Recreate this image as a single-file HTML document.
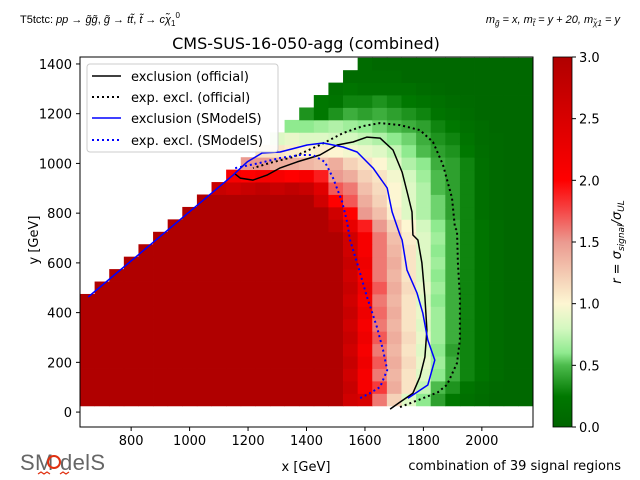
<!DOCTYPE html>
<html><head><meta charset="utf-8"><style>
body{margin:0;background:#fff;}
svg{display:block;font-family:"DejaVu Sans","Liberation Sans",sans-serif;}
</style></head><body>
<svg id="chart" width="640" height="480" xmlns="http://www.w3.org/2000/svg">
<defs>
<linearGradient id="cbgrad" x1="0" y1="1" x2="0" y2="0">
<stop offset="0" stop-color="#006400"/><stop offset="0.0833" stop-color="#007800"/><stop offset="0.1667" stop-color="#4cbb4c"/><stop offset="0.2" stop-color="#8fea8f"/><stop offset="0.2667" stop-color="#d4f8c0"/><stop offset="0.3333" stop-color="#fdf6d2"/><stop offset="0.4" stop-color="#f5d2b8"/><stop offset="0.5" stop-color="#eb9a90"/><stop offset="0.5833" stop-color="#f54848"/><stop offset="0.6667" stop-color="#ff0000"/><stop offset="0.8333" stop-color="#d80000"/><stop offset="1" stop-color="#b00000"/>
</linearGradient>
</defs>
<text x="20" y="23" font-size="11" font-family="Liberation Sans, sans-serif">T5tctc: <tspan font-style="italic">pp</tspan> → <tspan font-style="italic">g̃g̃</tspan>, <tspan font-style="italic">g̃</tspan> → <tspan font-style="italic">tt̃</tspan>, <tspan font-style="italic">t̃</tspan> → <tspan font-style="italic">cχ̃</tspan><tspan font-size="8" dy="3">1</tspan><tspan font-size="8" dy="-8">0</tspan></text>
<text x="620" y="23" font-size="11" text-anchor="end" font-family="Liberation Sans, sans-serif" font-style="italic">m<tspan font-size="8" dy="3">g̃</tspan><tspan dy="-3"> = x, m</tspan><tspan font-size="8" dy="3">t̃</tspan><tspan dy="-3"> = y + 20, m</tspan><tspan font-size="8" dy="3">χ̃1</tspan><tspan dy="-3"> = y</tspan></text>
<text x="306" y="49" font-size="16" text-anchor="middle">CMS-SUS-16-050-agg (combined)</text>
<g id="cells"></g>
<g id="curves"></g>
<rect x="80" y="57" width="453" height="370" fill="none" stroke="#000" stroke-width="1"/>
<g id="xticks"></g>
<g id="yticks"></g>
<text x="306" y="471" font-size="13" text-anchor="middle">x [GeV]</text>
<text x="0" y="0" font-size="13" text-anchor="middle" transform="translate(38,240) rotate(-90)">y [GeV]</text>
<text x="621" y="470" font-size="13" text-anchor="end">combination of 39 signal regions</text>
<g>
<rect x="87" y="64" width="191" height="88" rx="3" fill="#fff" fill-opacity="0.85" stroke="#ccc"/>
<line x1="92" y1="76" x2="121" y2="76" stroke="#000" stroke-width="1.5"/>
<text x="131" y="81" font-size="13">exclusion (official)</text>
<line x1="92" y1="97" x2="121" y2="97" stroke="#000" stroke-width="2" stroke-dasharray="2,3"/>
<text x="131" y="102" font-size="13">exp. excl. (official)</text>
<line x1="92" y1="118" x2="121" y2="118" stroke="#00f" stroke-width="1.5"/>
<text x="131" y="123" font-size="13">exclusion (SModelS)</text>
<line x1="92" y1="140" x2="121" y2="140" stroke="#00f" stroke-width="2" stroke-dasharray="2,3"/>
<text x="131" y="145" font-size="13">exp. excl. (SModelS)</text>
</g>
<rect x="553" y="57" width="19" height="370" fill="url(#cbgrad)" stroke="#000" stroke-width="0.8"/>
<g id="cbticks"></g>
<text x="0" y="0" font-size="13" text-anchor="middle" font-style="italic" transform="translate(621,242) rotate(-90)">r = σ<tspan font-size="9" dy="3">signal</tspan><tspan dy="-3">/σ</tspan><tspan font-size="9" dy="3">UL</tspan></text>
<g>
<text x="20" y="470" font-size="22" fill="#666" font-family="Liberation Sans, sans-serif" textLength="85">SM  delS</text>
<circle cx="54" cy="462" r="6" fill="none" stroke="#e03010" stroke-width="2"/>
<path d="M38 474 l3 -2 l3 2 l3 -2 l3 2 M60 474 l3 -2 l3 2 l3 -2" fill="none" stroke="#e03010" stroke-width="1.2"/>
</g>
</svg>
<script>
const N = null;
const xCenters = [650,700,750,800,850,900,950,1000,1050,1100,1150,1200,1250,1300,1350,1400,1450,1500,1550,1600,1650,1700,1750,1800,1850,1900,1950,2000,2050,2100,2150];
const yCenters = [50,100,150,200,250,300,350,400,450,500,550,600,650,700,750,800,850,900,950,1000,1050,1100,1150,1200,1250,1300,1350,1400];
const rValues = [
[3,3,3,3,3,3,3,3,3,3,3,3,3,3,3,3, 3,3,2.6,2.5,1.6,1.2,0.85,0.6,0.4,0.25,0.15,0.1,0.05,0.05,0.05],
[3,3,3,3,3,3,3,3,3,3,3,3,3,3,3,3, 3,3,2.7,2.1,1.8,1.4,1.1,0.75,0.5,0.35,0.2,0.12,0.06,0.05,0.05],
[3,3,3,3,3,3,3,3,3,3,3,3,3,3,3,3, 3,3,2.6,2.1,1.6,1.35,1.1,0.85,0.6,0.45,0.3,0.2,0.1,0.05,0.05],
[3,3,3,3,3,3,3,3,3,3,3,3,3,3,3,3, 3,3,2.7,2.2,1.7,1.4,1.15,0.9,0.65,0.45,0.3,0.2,0.1,0.05,0.05],
[3,3,3,3,3,3,3,3,3,3,3,3,3,3,3,3, 3,3,2.6,2.1,1.6,1.35,1.1,0.85,0.6,0.4,0.3,0.2,0.1,0.05,0.05],
[3,3,3,3,3,3,3,3,3,3,3,3,3,3,3,3, 3,3,2.7,2.2,1.7,1.4,1.15,0.9,0.65,0.45,0.3,0.2,0.1,0.05,0.05],
[3,3,3,3,3,3,3,3,3,3,3,3,3,3,3,3, 3,3,2.6,2.1,1.6,1.35,1.1,0.85,0.65,0.45,0.3,0.2,0.1,0.05,0.05],
[3,3,3,3,3,3,3,3,3,3,3,3,3,3,3,3, 3,3,2.7,2.2,1.65,1.4,1.1,0.9,0.65,0.45,0.3,0.2,0.1,0.05,0.05],
[3,3,3,3,3,3,3,3,3,3,3,3,3,3,3,3, 3,3,2.6,2.1,1.6,1.35,1.1,0.85,0.6,0.45,0.3,0.2,0.1,0.05,0.05],
[N,3,3,3,3,3,3,3,3,3,3,3,3,3,3,3, 3,3,2.7,2.2,1.7,1.4,1.15,0.9,0.65,0.45,0.3,0.2,0.1,0.05,0.05],
[N,N,3,3,3,3,3,3,3,3,3,3,3,3,3,3, 3,3,2.6,2.1,1.6,1.35,1.1,0.85,0.6,0.45,0.3,0.2,0.1,0.05,0.05],
[N,N,N,3,3,3,3,3,3,3,3,3,3,3,3,3, 3,3,2.7,2.2,1.6,1.4,1.1,0.85,0.65,0.45,0.3,0.2,0.1,0.05,0.05],
[N,N,N,N,3,3,3,3,3,3,3,3,3,3,3,3, 3,3,2.6,2.1,1.6,1.35,1.1,0.85,0.6,0.45,0.3,0.2,0.1,0.05,0.05],
[N,N,N,N,N,3,3,3,3,3,3,3,3,3,3,3, 3,3,2.6,2.1,1.6,1.3,1.05,0.85,0.65,0.45,0.3,0.2,0.1,0.05,0.05],
[N,N,N,N,N,N,3,3,3,3,3,3,3,3,3,3, 3,2.8,2.3,1.9,1.5,1.2,1.0,0.8,0.6,0.45,0.3,0.2,0.1,0.05,0.05],
[N,N,N,N,N,N,N,3,3,3,3,3,3,3,3,3, 3,2.6,2.0,1.5,1.3,1.05,0.85,0.7,0.55,0.4,0.3,0.15,0.08,0.05,0.05],
[N,N,N,N,N,N,N,N,3,3,3,3,3,3,3,3, 2.6,2.0,1.7,1.4,1.2,1.0,0.85,0.7,0.55,0.4,0.3,0.15,0.08,0.05,0.05],
[N,N,N,N,N,N,N,N,N,2.7,2.6,2.7,2.8,2.7,2.8,2.7, 2.4,1.7,1.6,1.3,1.15,1.0,0.85,0.7,0.5,0.4,0.3,0.15,0.08,0.05,0.05],
[N,N,N,N,N,N,N,N,N,N,2.1,2.0,2.1,2.1,2.0,2.1, 1.9,1.5,1.4,1.2,1.1,0.95,0.8,0.65,0.5,0.4,0.3,0.15,0.08,0.05,0.05],
[N,N,N,N,N,N,N,N,N,N,N,1.5,1.5,1.4,1.4,1.35, 1.3,1.4,1.2,1.1,1.0,0.85,0.7,0.6,0.45,0.4,0.3,0.15,0.08,0.05,0.05],
[N,N,N,N,N,N,N,N,N,N,N,N,1.1,1.1,1.05,1.0, 1.05,1.0,0.95,0.9,0.85,0.75,0.6,0.5,0.4,0.35,0.25,0.12,0.08,0.05,0.05],
[N,N,N,N,N,N,N,N,N,N,N,N,N,0.85,0.9,0.85, 0.85,0.8,0.8,0.75,0.7,0.6,0.55,0.45,0.35,0.3,0.2,0.1,0.08,0.05,0.05],
[N,N,N,N,N,N,N,N,N,N,N,N,N,N,0.6,0.6, 0.65,0.7,0.65,0.6,0.55,0.5,0.45,0.4,0.3,0.25,0.15,0.1,0.05,0.05,0.05],
[N,N,N,N,N,N,N,N,N,N,N,N,N,N,N,0.35, 0.25,0.35,0.45,0.4,0.45,0.4,0.35,0.3,0.2,0.15,0.1,0.05,0.05,0.05,0.05],
[N,N,N,N,N,N,N,N,N,N,N,N,N,N,N,N, 0.25,0.2,0.3,0.3,0.35,0.3,0.25,0.2,0.15,0.1,0.08,0.05,0.05,0.05,0.05],
[N,N,N,N,N,N,N,N,N,N,N,N,N,N,N,N, N,0.15,0.2,0.15,0.15,0.15,0.15,0.1,0.08,0.05,0.05,0.05,0.05,0.05,0.05],
[N,N,N,N,N,N,N,N,N,N,N,N,N,N,N,N, N,N,0.1,0.1,0.1,0.1,0.05,0.05,0.05,0.05,0.05,0.05,0.05,0.05,0.05],
[N,N,N,N,N,N,N,N,N,N,N,N,N,N,N,N, N,N,N,0.1,0.05,0.05,0.05,0.05,0.05,0.05,0.05,0.05,0.05,0.05,0.05]
];
const officialX = [1686,1720,1764,1788,1805,1812,1805,1795,1781,1764,1761,1747,1727,1696,1652,1607,1559,1505,1446,1412,1368,1310,1265,1217,1173,1156];
const officialY = [12,40,76,141,221,330,463,600,692,712,805,873,965,1054,1102,1106,1086,1074,1034,1022,1006,982,953,933,941,957];
const expOfficialX = [1720,1799,1850,1881,1915,1925,1925,1918,1915,1908,1898,1867,1833,1788,1720,1652,1593,1525,1446,1354,1275,1217];
const expOfficialY = [20,56,80,110,197,290,463,600,732,740,861,994,1086,1134,1154,1162,1150,1122,1074,1026,1002,981];
const smodelsX = [653,1149,1197,1248,1310,1402,1457,1525,1573,1628,1676,1693,1720,1727,1744,1778,1798,1815,1839,1815,1747];
const smodelsY = [463,953,1006,1042,1046,1074,1082,1066,1046,981,901,805,712,692,571,479,398,290,209,109,56];
const expSmodelsX = [1156,1241,1310,1378,1422,1463,1491,1522,1539,1549,1573,1607,1641,1662,1676,1652,1617,1583];
const expSmodelsY = [981,1002,1022,1034,1034,1006,941,845,764,692,600,463,342,249,169,101,76,56];
const xTicks = [800,1000,1200,1400,1600,1800,2000];
const yTicks = [0,200,400,600,800,1000,1200,1400];
const cbTicks = ["0.0","0.5","1.0","1.5","2.0","2.5","3.0"];

const SVGNS = "http://www.w3.org/2000/svg";
const xs = v => 80 + (v - 625) * (453 / 1550);
const ys = v => 427 - (v + 60) * (370 / 1488);
const cbs = v => 427 - v * (370 / 3);
const stops = [[0,[0,100,0]],[0.25,[0,120,0]],[0.5,[76,187,76]],[0.6,[143,234,143]],[0.8,[212,248,192]],[1.0,[253,246,210]],[1.2,[245,210,184]],[1.5,[235,154,144]],[1.75,[245,72,72]],[2.0,[255,0,0]],[2.5,[216,0,0]],[3.0,[176,0,0]]];
function color(r){
  r = Math.max(0, Math.min(3, r));
  for (let i = 1; i < stops.length; i++) {
    if (r <= stops[i][0]) {
      const a = stops[i-1], b = stops[i], t = (r - a[0]) / (b[0] - a[0]);
      const c = a[1].map((v, k) => Math.round(v + (b[1][k] - v) * t));
      return "rgb(" + c.join(",") + ")";
    }
  }
  return "rgb(176,0,0)";
}
function mk(tag, attrs, parent){
  const e = document.createElementNS(SVGNS, tag);
  for (const k in attrs) e.setAttribute(k, attrs[k]);
  parent.appendChild(e);
  return e;
}
const cells = document.getElementById("cells");
yCenters.forEach((yv, i) => {
  xCenters.forEach((xv, j) => {
    const r = rValues[i][j];
    if (r === null) return;
    const x0 = xs(xv - 25), x1 = xs(xv + 25), y0 = ys(yv + 25), y1 = ys(yv - 25);
    const el = mk("rect", {x: x0, y: y0, width: x1 - x0 + 0.4, height: y1 - y0 + 0.4, fill: color(r)}, cells);
    
    
  });
});
const curves = document.getElementById("curves");
function drawLine(X, Y, stroke, dash, name){
  const d = X.map((v, k) => (k ? "L" : "M") + xs(v).toFixed(1) + " " + ys(Y[k]).toFixed(1)).join(" ");
  const p = mk("path", {d: d, fill: "none", stroke: stroke, "stroke-width": dash ? 2 : 1.5, "stroke-linejoin": "round"}, curves);
  if (dash) p.setAttribute("stroke-dasharray", "2,3");
  
  
}
drawLine(officialX, officialY, "#000", false, "official-exclusion-line");
drawLine(expOfficialX, expOfficialY, "#000", true, "official-expected-line");
drawLine(smodelsX, smodelsY, "#00f", false, "smodels-exclusion-line");
drawLine(expSmodelsX, expSmodelsY, "#00f", true, "smodels-expected-line");

const xg = document.getElementById("xticks");
xTicks.forEach(v => {
  const x = xs(v);
  mk("line", {x1: x, y1: 427, x2: x, y2: 431, stroke: "#000"}, xg);
  const t = mk("text", {x: x, y: 445, "font-size": 13, "text-anchor": "middle"}, xg);
  t.textContent = v;
  
  
});
const yg = document.getElementById("yticks");
yTicks.forEach(v => {
  const y = ys(v);
  mk("line", {x1: 76, y1: y, x2: 80, y2: y, stroke: "#000"}, yg);
  const t = mk("text", {x: 72, y: y + 5, "font-size": 13, "text-anchor": "end"}, yg);
  t.textContent = v;
  
  
});
const cg = document.getElementById("cbticks");
cbTicks.forEach(s => {
  const y = cbs(parseFloat(s));
  mk("line", {x1: 572, y1: y, x2: 576, y2: y, stroke: "#000"}, cg);
  const t = mk("text", {x: 579, y: y + 5, "font-size": 13}, cg);
  t.textContent = s;
  
  
});
</script>
</body></html>
